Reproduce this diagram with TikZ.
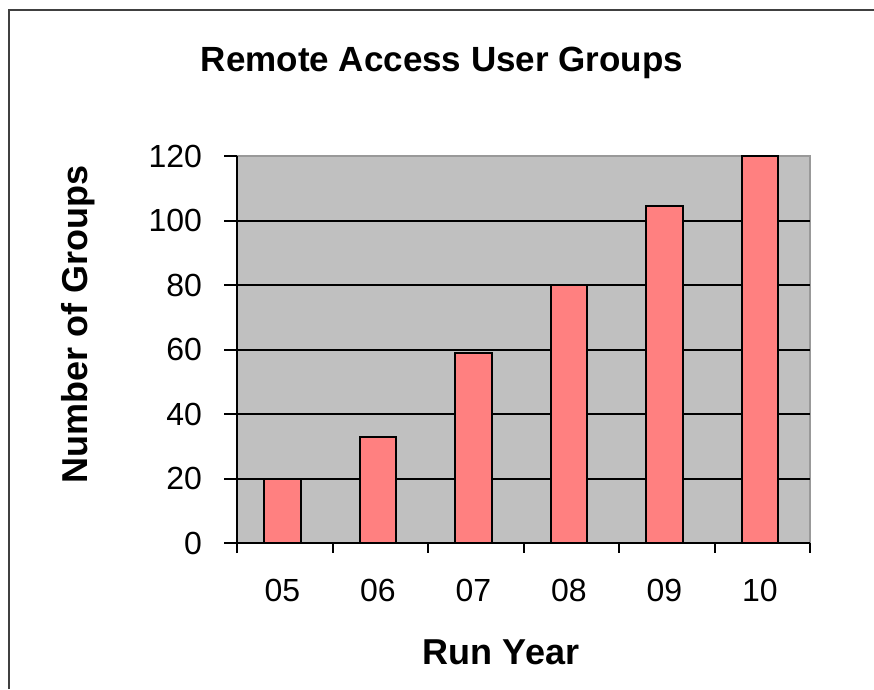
\documentclass[tikz,border=0pt]{standalone}
\usepackage{fontspec}
\setmainfont{Liberation Sans}
\usetikzlibrary{positioning}
\definecolor{plotbg}{HTML}{C0C0C0}
\definecolor{barfill}{HTML}{FF8080}
\definecolor{framegray}{HTML}{404040}

\begin{document}
\begin{tikzpicture}[x=1pt, y=-1pt,
  ticklabel/.style={font=\fontsize{32}{32}\selectfont},
  axistitle/.style={font=\fontsize{36}{36}\selectfont\bfseries}]
  \useasboundingbox (0,0) rectangle (874,689);
  \fill[white] (0,0) rectangle (874,689);
  \draw[framegray, line width=2.5pt] (9,689) -- (9,10) -- (874,10);

  \node[axistitle, font=\fontsize{35}{35}\selectfont\bfseries] (title) at (442,63) {Remote Access User Groups};

  % plot area in data units: x = category, y = groups
  \begin{scope}[shift={(237,543)}, x=95.5pt, y=3.225pt]
    \fill[plotbg] (0,0) rectangle (6,120);
    \draw[gray!80, line width=1.5pt] (0,120) -- (6,120) -- (6,0);
    \foreach \v in {20,40,...,100}
      \draw[line width=2pt] (0,\v) -- (6,\v);

    \foreach \i/\v in {0/20,1/33,2/59,3/80,4/104.5,5/120}
      \filldraw[fill=barfill, line width=2pt] (\i+0.286,0) rectangle (\i+0.666,\v);

    \draw[line width=2pt] (0,-3.1) -- (0,120);
    \draw[line width=2pt] (-0.136,0) -- (6,0);
    \foreach \v in {20,40,...,120}
      \draw[line width=2pt] (-0.136,\v) -- (0,\v);
    \foreach \i in {1,...,6}
      \draw[line width=2pt] (\i,0) -- (\i,-3.1);

    \foreach \v in {0,20,...,120}
      \node[ticklabel, anchor=east] (ylab\v) at (-0.33,\v) {\v};
    \foreach \i/\t in {0/05,1/06,2/07,3/08,4/09,5/10}
      \node[ticklabel] (xlab\i) at (\i+0.476,-14.6) {\t};
  \end{scope}

  \node[axistitle, anchor=base] (xtitle) at (501,664) {Run Year};
  \node[axistitle, rotate=90] (ytitle) at (78,324) {Number of Groups};
\end{tikzpicture}
\end{document}
